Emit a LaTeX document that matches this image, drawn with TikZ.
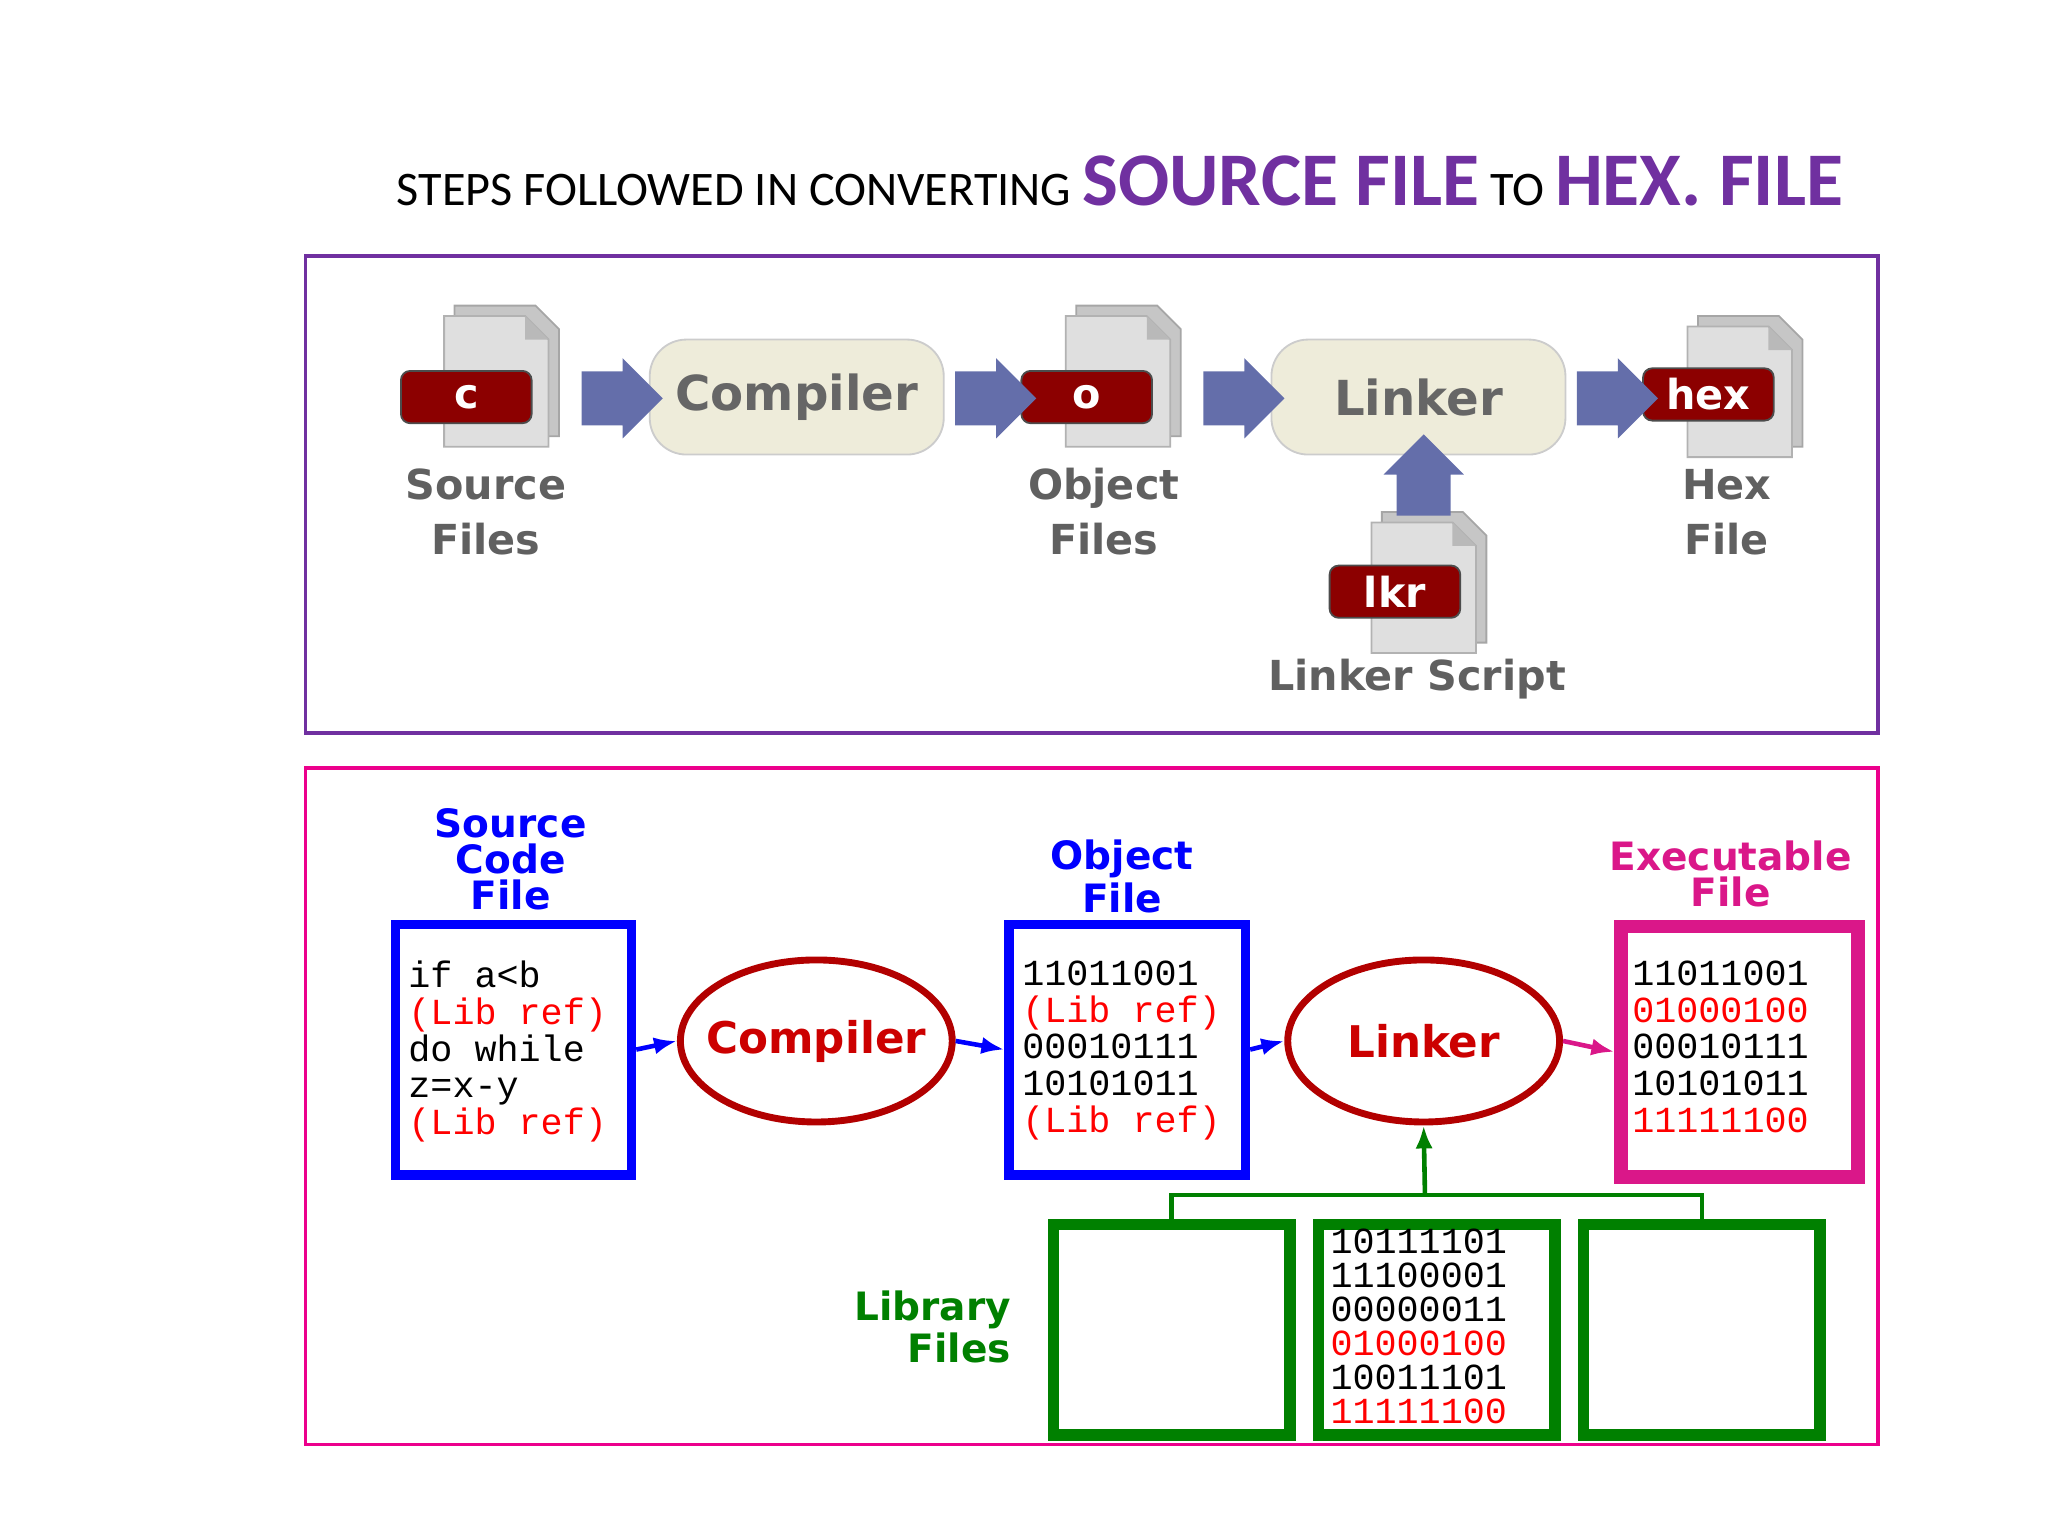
\documentclass[tikz,border=0pt]{standalone}
\usepackage{fontspec}
\setmainfont{Carlito}
\newfontfamily\mono{Liberation Mono}
\newfontfamily\heavy{DejaVu Sans}
\usetikzlibrary{shapes.arrows,shapes.geometric,arrows.meta}
\definecolor{ttl}{RGB}{112,48,160}
\definecolor{fatblue}{RGB}{100,110,170}
\definecolor{tagred}{RGB}{140,0,0}
\definecolor{boxbeige}{RGB}{238,236,218}
\definecolor{grn}{RGB}{0,128,0}
\newcommand\fileicon[2]{%
  \fill[gray!45,draw=gray!70] (#1+8,#2-8) -- (#1+70,#2-8) -- (#1+88,#2+10) -- (#1+88,#2+92) -- (#1+8,#2+92) -- cycle;
  \fill[gray!25,draw=gray!60] (#1,#2) -- (#1+62,#2) -- (#1+80,#2+18) -- (#1+80,#2+100) -- (#1,#2+100) -- cycle;
  \fill[gray!55] (#1+62,#2) -- (#1+62,#2+18) -- (#1+80,#2+18) -- cycle;}
\begin{document}
\begin{tikzpicture}[x=0.01cm,y=-0.01cm,
  fat/.style={single arrow,fill=fatblue,minimum height=0.58cm,inner sep=0.2cm,single arrow head extend=0.1cm},
  tag/.style={rounded corners=2pt,fill=tagred,draw=black!70,text=white,font=\heavy\bfseries\fontsize{9}{9}\selectfont,minimum width=1cm,minimum height=0.4cm,inner sep=1pt},
  stage/.style={rounded corners=8pt,fill=boxbeige,draw=gray!40,text=gray!80!black,font=\heavy\bfseries\fontsize{10.5}{10.5}\selectfont,minimum width=2.25cm,minimum height=0.88cm},
  label/.style={text=gray!75!black,font=\heavy\bfseries\fontsize{9}{12}\selectfont,align=center},
  code/.style={draw=blue,line width=2pt,minimum width=1.81cm,minimum height=1.92cm,anchor=north west,inner sep=0pt},
  lib/.style={draw=grn,line width=2.5pt,minimum width=1.81cm,minimum height=1.61cm,anchor=north west},
  tool/.style={ellipse,draw=red!70!black,line width=1.5pt,minimum width=2.08cm,minimum height=1.24cm,inner xsep=-8pt,inner ysep=0pt,text=red!80!black,font=\heavy\bfseries\fontsize{9.5}{9.5}\selectfont},
  head/.style={font=\heavy\bfseries\fontsize{8.5}{7.8}\selectfont,align=center},
  bits/.style={font=\mono\fontsize{8}{8}\selectfont,align=left,inner sep=0pt},
  flow/.style={-{Latex[length=5pt]},line width=1pt}]
\useasboundingbox (0,0) rectangle (1568,1176);
% title
\node[anchor=base west,inner sep=0pt] (title) at (303,157) {\fontsize{10.5}{10.5}\selectfont STEPS FOLLOWED IN CONVERTING \textcolor{ttl}{\bfseries\fontsize{16.5}{16.5}\selectfont SOURCE FILE} \fontsize{10.5}{10.5}\selectfont TO \textcolor{ttl}{\bfseries\fontsize{16.5}{16.5}\selectfont HEX. FILE}};
% top panel
\draw[ttl,line width=0.8pt] (234,196) rectangle (1438,561);
\fileicon{340}{242}
\fileicon{816}{242}
\fileicon{1292}{250}
\fileicon{1050}{400}
\node[tag] (c) at (357,304) {c};
\node[tag] (o) at (832,304) {o};
\node[tag] (hex) at (1308,302) {hex};
\node[tag] (lkr) at (1068,453) {lkr};
\node[stage] (comp) at (610,304) {Compiler};
\node[stage] (link) at (1086,304) {Linker};
\node[fat] (a1) at (466,305) {};
\node[fat] (a2) at (752,305) {};
\node[fat] (a3) at (942,305) {};
\node[fat] (a4) at (1228,305) {};
\node[fat,rotate=90] (a5) at (1090,374) {};
\node[label] (src) at (372,392) {Source\\Files};
\node[label] (obj) at (845,392) {Object\\Files};
\node[label] (hexf) at (1322,392) {Hex\\File};
\node[label] (lscr) at (1085,520) {Linker Script};
% bottom panel
\draw[magenta,line width=0.8pt] (234,588) rectangle (1438,1106);
\node[head,text=blue] (hsrc) at (391,658) {Source\\Code\\File};
\node[head,text=blue] (hobj) at (859,671) {Object\\File};
\node[head,text=magenta!80!violet] (hexe) at (1325,669) {Executable\\File};
\node[head,text=grn,align=right] (hlib) at (714,1016) {Library\\Files};
\node[code] (srcbox) at (299,704) {};
\node[code] (objbox) at (769,704) {};
\node[code,draw=magenta!80!violet,line width=3pt] (exebox) at (1236,704) {};
\node[bits,anchor=north west] at (312,735) {if a<b\\\textcolor{red}{(Lib ref)}\\do while\\z=x-y\\\textcolor{red}{(Lib ref)}};
\node[bits,anchor=north west] at (782,735) {11011001\\\textcolor{red}{(Lib ref)}\\00010111\\10101011\\\textcolor{red}{(Lib ref)}};
\node[bits,anchor=north west] at (1249,735) {11011001\\\textcolor{red}{01000100}\\00010111\\10101011\\\textcolor{red}{11111100}};
\node[tool] (ccomp) at (625,797) {Compiler};
\node[tool] (clink) at (1090,797) {Linker};
\node[lib] (lib1) at (802,933) {};
\node[lib] (lib2) at (1005,933) {};
\node[lib] (lib3) at (1208,933) {};
\node[bits,anchor=north west,font=\mono\fontsize{8}{7.4}\selectfont] at (1018,940) {10111101\\11100001\\00000011\\\textcolor{red}{01000100}\\10011101\\\textcolor{red}{11111100}};
\draw[flow,blue] (srcbox.east) -- (ccomp.west);
\draw[flow,blue] (ccomp.east) -- (objbox.west);
\draw[flow,blue] (objbox.east) -- (clink.west);
\draw[flow,magenta!80!violet] (clink.east) -- (exebox.west);
\coordinate (fork) at (1091,915);
\draw[grn,line width=1pt] (lib1.north) |- (fork) -| (lib3.north);
\draw[flow,grn] (fork) -- (clink.south);
\end{tikzpicture}
\end{document}
